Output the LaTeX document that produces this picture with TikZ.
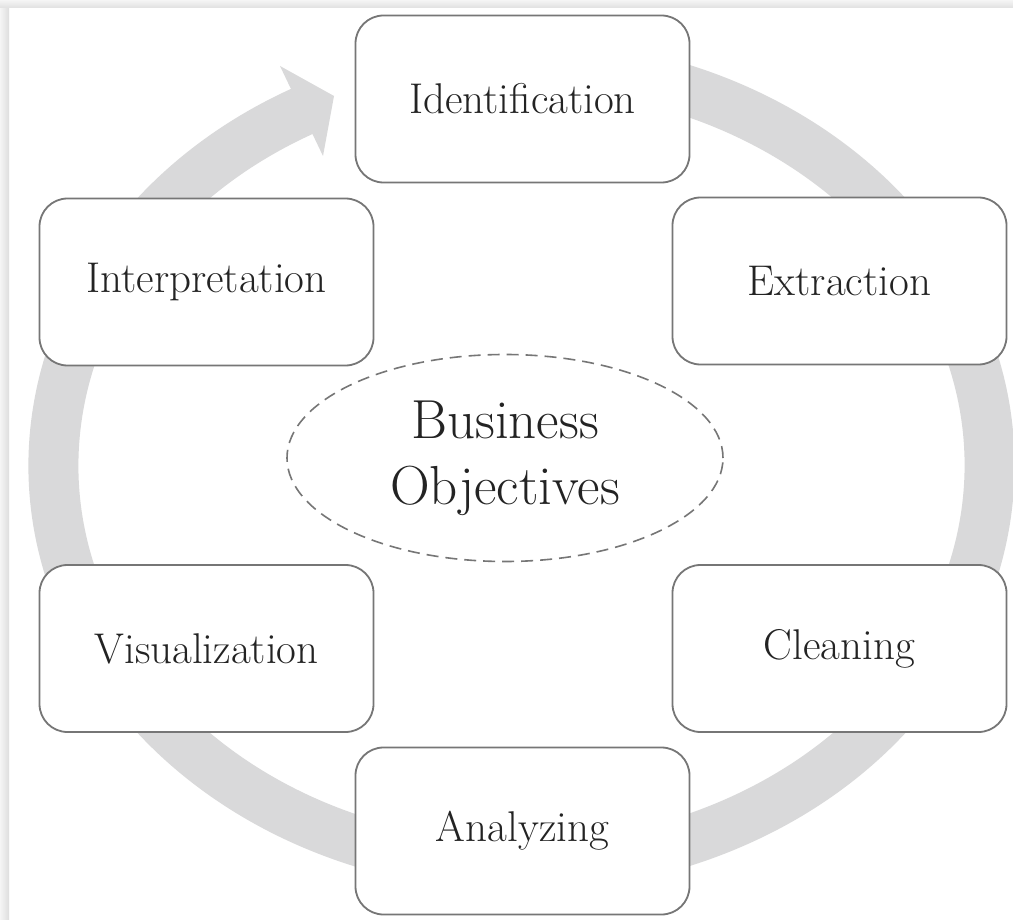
\documentclass[tikz,border=0pt]{standalone}
\usetikzlibrary{shapes.geometric}
\definecolor{ringgray}{RGB}{217,217,218}
\definecolor{boxline}{RGB}{118,118,118}
\definecolor{txt}{RGB}{35,35,35}
\begin{document}
\begin{tikzpicture}[x=1pt,y=-1pt,
  stepbox/.style={draw=boxline, line width=1.8pt, fill=white, rounded corners=28pt,
    minimum width=334pt, minimum height=167pt, inner sep=0pt, text=txt,
    font=\fontsize{43}{50}\selectfont},
  goalshape/.style={ellipse, draw=boxline, line width=1.6pt, dash pattern=on 12pt off 7pt,
    minimum width=436pt, minimum height=207pt, inner sep=0pt, align=center, text=txt,
    font=\fontsize{55}{66}\selectfont},
  ringband/.style={draw=ringgray, line width=50pt}]
\useasboundingbox (0,0) rectangle (1013,920);
\fill[white] (0,0) rectangle (1013,920);
% shadow strips
\shade[left color=black!4, right color=black!13] (0,0) rectangle (9,920);
\shade[top color=black!4, bottom color=black!12] (0,0) rectangle (1013,8);
% ring arrow
\coordinate (C) at (521.5,465.5);
\draw[ringband] (C) ++(-117:468 and 401) arc[start angle=-117, end angle=-450, x radius=468, y radius=401];
\coordinate (h1) at (280,66);
\coordinate (h2) at (334,96);
\coordinate (h3) at (323,156);
\fill[ringgray] (h1) -- (h2) -- (h3) -- cycle;
% boxes
\node[stepbox] (ident) at (522.5,99) {Identification};
\node[stepbox] (extr) at (839.5,281) {Extraction};
\node[stepbox] (clean) at (839.5,648.5) {Cleaning};
\node[stepbox] (anal) at (522.5,831) {Analyzing};
\node[stepbox] (vis) at (206.5,648.5) {Visualization};
\node[stepbox] (interp) at (206.5,282) {Interpretation};
% center
\node[goalshape] (goal) at (505,458) {Business\\Objectives};
\end{tikzpicture}
\end{document}
